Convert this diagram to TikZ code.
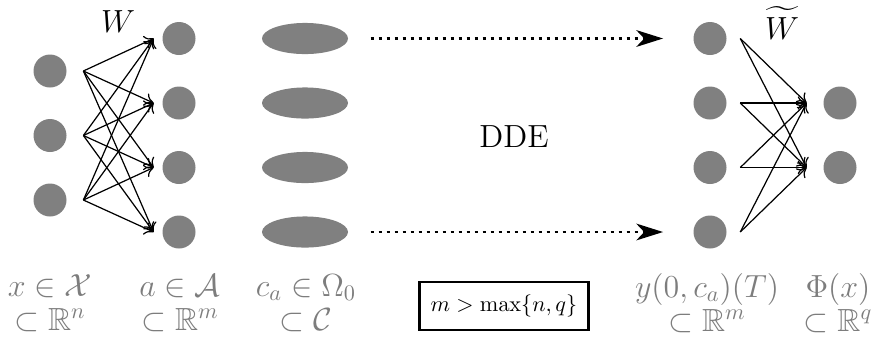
\documentclass[tikz,border=0pt]{standalone}
\usepackage{amssymb}
\usetikzlibrary{arrows.meta, shapes.geometric, positioning, calc}
\definecolor{nodegray}{RGB}{128, 128, 128}
\definecolor{labelgray}{RGB}{125, 125, 125}

\tikzset{
    unit/.style={circle, fill=nodegray, minimum size=14.85pt, inner sep=0pt},
    cstate/.style={ellipse, fill=nodegray, minimum width=38.7pt, minimum height=14pt, inner sep=0pt},
    weight/.style={-{To[length=4pt, width=6pt]}, line width=0.55pt},
    flow/.style={line width=1.3pt, dash pattern=on 1.3pt off 2.3pt,
        -{Stealth[length=12pt, width=7.5pt, inset=3.5pt]}},
    setlabel/.style={text=labelgray, align=center, inner sep=0pt,
        font=\fontsize{14.4}{15.5}\selectfont}
}

\begin{document}
\begin{tikzpicture}[x=0.45pt, y=-0.45pt]
    \useasboundingbox (0,0) rectangle (878,340);

    % Input layer
    \node[unit] (x1) at (50,71) {};
    \node[unit] (x2) at (50,135.5) {};
    \node[unit] (x3) at (50,200) {};

    % Lifted layer
    \node[unit] (a1) at (179,38.5) {};
    \node[unit] (a2) at (179,103) {};
    \node[unit] (a3) at (179,167.5) {};
    \node[unit] (a4) at (179,232) {};

    % Initial conditions
    \node[cstate] (c1) at (305,38.5) {};
    \node[cstate] (c2) at (305,103) {};
    \node[cstate] (c3) at (305,167.5) {};
    \node[cstate] (c4) at (305,232) {};

    % Final states
    \node[unit] (y1) at (710,38.5) {};
    \node[unit] (y2) at (710,103) {};
    \node[unit] (y3) at (710,167.5) {};
    \node[unit] (y4) at (710,232) {};

    % Output layer
    \node[unit] (o1) at (840,103) {};
    \node[unit] (o2) at (840,167.5) {};

    % Weights
    \foreach \i in {1,2,3}
        \foreach \j in {1,2,3,4}
            \draw[weight] ([xshift=7.4pt]x\i.east) -- ([xshift=-3.8pt]a\j.west);
    \foreach \i in {1,2,3,4}
        \foreach \j in {1,2}
            \draw[weight] ([xshift=6pt]y\i.east) -- ([xshift=-7.4pt]o\j.west);

    \node[font=\Large, inner sep=0pt] (wleft) at (118,22) {$W$};
    \node[font=\Large, inner sep=0pt] (wright) at (782,23) {$\widetilde{W}$};

    % DDE flow
    \draw[flow, shorten <=10pt, shorten >=13.5pt] (c1) -- (y1);
    \draw[flow, shorten <=10pt, shorten >=13.5pt] (c4) -- (y4);
    \node[font=\Large] (dde) at (514,137) {DDE};

    % Sets
    \node[setlabel] (xset) at (50,303) {$x\in\mathcal{X}$\\$\subset\mathbb{R}^n$};
    \node[setlabel] (aset) at (180,303) {$a\in\mathcal{A}$\\$\subset\mathbb{R}^m$};
    \node[setlabel] (cset) at (306,303) {$c_a\in\Omega_0$\\$\subset\mathcal{C}$};
    \node[setlabel] (yset) at (707,303) {$y(0,c_a)(T)$\\$\subset\mathbb{R}^m$};
    \node[setlabel] (oset) at (838,303) {$\Phi(x)$\\$\subset\mathbb{R}^q$};

    % Condition
    \node[draw, line width=1.3pt, inner xsep=5pt, minimum height=21.6pt] (cond) at (504,306) {$m>\max\{n,q\}$};
\end{tikzpicture}
\end{document}
